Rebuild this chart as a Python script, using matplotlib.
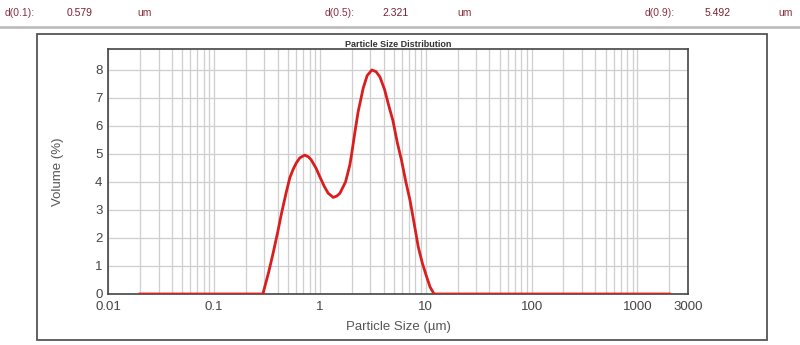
import matplotlib
matplotlib.use("Agg")
import matplotlib.pyplot as plt
from matplotlib.patches import Rectangle
from matplotlib.ticker import FixedLocator, NullFormatter

plt.rcParams['font.family'] = ['Liberation Sans', 'DejaVu Sans']

# Data
size_um = [0.02, 0.1, 0.29, 0.33, 0.362, 0.40, 0.435, 0.48, 0.521, 0.56, 0.60, 0.647,
           0.72, 0.78, 0.83, 0.92, 1.0, 1.1, 1.2, 1.34, 1.45, 1.55, 1.75, 1.92, 2.0,
           2.14, 2.3, 2.57, 2.8, 3.1, 3.4, 3.7, 4.1, 4.5, 4.9, 5.4, 5.9, 6.5, 7.1,
           7.8, 8.5, 9.3, 10.2, 11.0, 12.0, 100.0, 2000.0]
volume_pct = [0.0, 0.0, 0.0, 0.8, 1.45, 2.2, 2.88, 3.6, 4.15, 4.45, 4.68, 4.86,
              4.96, 4.9, 4.79, 4.5, 4.19, 3.85, 3.6, 3.45, 3.5, 3.6, 4.0, 4.6, 5.0,
              5.75, 6.5, 7.35, 7.8, 8.0, 7.94, 7.75, 7.29, 6.7, 6.2, 5.4, 4.79, 4.0, 3.36,
              2.5, 1.69, 1.1, 0.62, 0.25, 0.0, 0.0, 0.0]

x_ticks = [0.01, 0.1, 1, 10, 100, 1000, 3000]
x_tick_labels = ["0.01", "0.1", "1", "10", "100", "1000", "3000"]
y_ticks = [0, 1, 2, 3, 4, 5, 6, 7, 8]

header_items = [("d(0.1):", "0.579", "um"), ("d(0.5):", "2.321", "um"), ("d(0.9):", "5.492", "um")]
header_x = [(5, 67, 137), (325, 382, 457), (645, 705, 778)]

W, H = 800, 345
fig = plt.figure(figsize=(8.0, 3.45), dpi=100)

# Header texts
for (lab, val, unit), (x1, x2, x3) in zip(header_items, header_x):
    fig.text(x1 / W, 1 - 13 / H, lab, fontsize=7.5, color='#8a2f3f', ha='left', va='center')
    fig.text(x2 / W, 1 - 13 / H, val, fontsize=7.5, color='#7a1f30', ha='left', va='center')
    fig.text(x3 / W, 1 - 13 / H, unit, fontsize=7.5, color='#8a2f3f', ha='left', va='center')

# Header separator line
fig.add_artist(plt.Line2D([0, 1], [1 - 27 / H, 1 - 27 / H], color='#b8b8b8', lw=1.8,
                          transform=fig.transFigure))

# Outer frame
fig.add_artist(Rectangle((37 / W, (H - 340) / H), 730 / W, 306 / H, fill=False,
                         edgecolor='#555555', lw=1.3, transform=fig.transFigure))

ax = fig.add_axes([108 / W, (H - 294) / H, 580 / W, 245 / H])
ax.plot(size_um, volume_pct, color='#d81e1e', lw=2.0, solid_joinstyle='round', zorder=3)

ax.set_xscale('log')
ax.set_xlim(0.01, 3000)
ax.set_ylim(0, 8.75)

ax.xaxis.set_major_locator(FixedLocator(x_ticks))
ax.set_xticklabels(x_tick_labels)
ax.xaxis.set_minor_locator(FixedLocator(
    [m * 10 ** e for e in range(-2, 4) for m in range(2, 10) if m * 10 ** e < 3000]))
ax.xaxis.set_minor_formatter(NullFormatter())
ax.set_yticks(y_ticks)

ax.grid(True, which='both', axis='x', color='#cfcfcf', lw=0.9)
ax.grid(True, which='major', axis='y', color='#cfcfcf', lw=0.9)
ax.set_axisbelow(True)

ax.tick_params(axis='both', which='both', length=0, labelsize=9.5, colors='#444444', pad=4)
ax.tick_params(axis='x', pad=5)

for s in ax.spines.values():
    s.set_color('#444444')
    s.set_linewidth(1.2)

ax.set_title('Particle Size Distribution', fontsize=6.5, fontweight='bold', color='#333333', pad=1.5)
ax.set_xlabel('Particle Size (µm)', fontsize=9.5, color='#555555', labelpad=6)
ax.set_ylabel('Volume (%)', fontsize=9.5, color='#555555', labelpad=22)

fig.savefig('out.png', dpi=100)
